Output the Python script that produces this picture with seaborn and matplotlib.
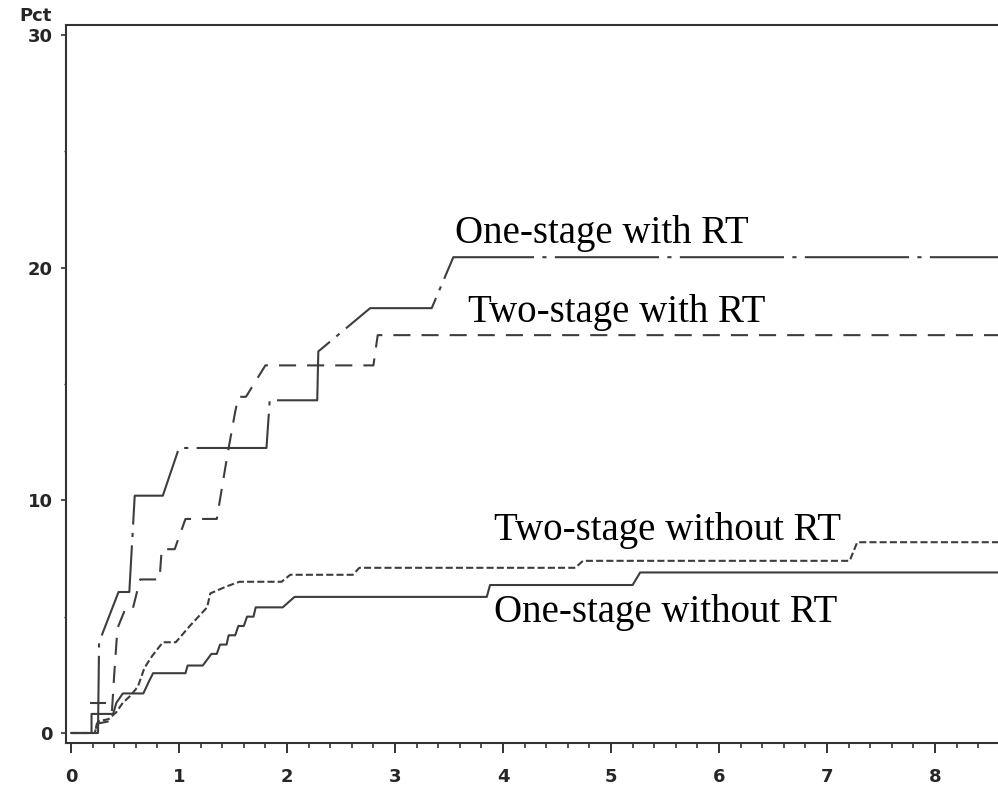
import numpy as np
import pandas as pd
import matplotlib
matplotlib.use("Agg")
import matplotlib.pyplot as plt
import seaborn as sns
from matplotlib.ticker import MultipleLocator

# cumulative incidence curves (years, percent)
one_rt_x = [0, 0.25, 0.26, 0.44, 0.54, 0.59, 0.85, 1.0, 1.81, 1.84, 2.28, 2.29, 2.77, 3.34, 3.54, 8.6]
one_rt_y = [0, 0, 3.9, 6.06, 6.06, 10.2, 10.2, 12.25, 12.25, 14.3, 14.3, 16.4, 18.26, 18.26, 20.45, 20.45]

two_rt_x = [0, 0.22, 0.24, 0.35, 0.38, 0.40, 0.43, 0.50, 0.57, 0.64, 0.82, 0.84, 0.96, 1.06, 1.35,
            1.45, 1.52, 1.55, 1.62, 1.80, 2.80, 2.84, 8.6]
two_rt_y = [0, 0, 0.4, 0.5, 1.0, 2.5, 4.5, 5.3, 5.3, 6.6, 6.6, 7.9, 7.9, 9.2, 9.2,
            12.0, 13.8, 14.45, 14.45, 15.8, 15.8, 17.1, 17.1]

two_nort_x = [0, 0.22, 0.25, 0.35, 0.42, 0.48, 0.55, 0.62, 0.68, 0.75, 0.85, 0.97, 1.10, 1.26, 1.29,
              1.44, 1.56, 1.95, 2.03, 2.61, 2.67, 4.67, 4.74, 7.21, 7.28, 8.6]
two_nort_y = [0, 0, 0.5, 0.6, 0.9, 1.3, 1.6, 2.0, 2.8, 3.3, 3.9, 3.9, 4.6, 5.4, 6.0,
              6.3, 6.5, 6.5, 6.8, 6.8, 7.1, 7.1, 7.4, 7.4, 8.2, 8.2]

one_nort_x = [0, 0.19, 0.19, 0.39, 0.42, 0.48, 0.67, 0.72, 0.76, 1.06, 1.08, 1.22, 1.30, 1.35, 1.38,
              1.44, 1.46, 1.52, 1.55, 1.60, 1.63, 1.69, 1.71, 1.96, 2.07, 3.85, 3.88, 5.20, 5.27, 8.6]
one_nort_y = [0, 0, 0.82, 0.82, 1.3, 1.7, 1.7, 2.2, 2.57, 2.57, 2.9, 2.9, 3.4, 3.4, 3.8,
              3.8, 4.2, 4.2, 4.6, 4.6, 5.0, 5.0, 5.4, 5.4, 5.85, 5.85, 6.36, 6.36, 6.9, 6.9]

# small censoring mark near the start
mark_x = [0.25]
mark_y = [1.29]

groups = ["One-stage with RT", "Two-stage with RT", "Two-stage without RT", "One-stage without RT"]
label_x = [3.56, 3.68, 3.92, 3.92]
label_y = [21.05, 17.65, 8.3, 4.75]

x_ticks = list(range(0, 9))
y_ticks = [0, 10, 20, 30]

frames = []
for name, xs, ys in zip(groups,
                        [one_rt_x, two_rt_x, two_nort_x, one_nort_x],
                        [one_rt_y, two_rt_y, two_nort_y, one_nort_y]):
    frames.append(pd.DataFrame({"years": xs, "pct": ys, "group": name}))
df = pd.concat(frames, ignore_index=True)

sns.set_style("ticks")
tick_font = ["Liberation Sans Narrow", "DejaVu Sans"]

fig = plt.figure(figsize=(9.98, 7.87), dpi=100)
ax = fig.add_axes([66 / 998, (787 - 743) / 787, 1 - 66 / 998, (743 - 25) / 787])

line_col = "#3d3d3d"
dash_map = {
    "One-stage with RT": (50, 4, 2, 4),
    "Two-stage with RT": (8.2, 5.3),
    "Two-stage without RT": (3.4, 1.5),
    "One-stage without RT": "",
}
sns.lineplot(data=df, x="years", y="pct", hue="group", style="group",
             palette={g: line_col for g in groups}, dashes=dash_map,
             sort=False, estimator=None, legend=False, lw=1.5, ax=ax)
ax.plot(mark_x, mark_y, marker="_", markersize=12, mew=1.5, color=line_col, ls="none")

for name, tx, ty in zip(groups, label_x, label_y):
    ax.text(tx, ty, name, fontsize=28, family=["Liberation Serif", "DejaVu Serif"],
            ha="left", va="baseline", color="black")

x0 = 0 - 5 / 108
x1 = (998 - 71) / 108
ax.set_xlim(x0, x1)
ax.set_ylim(-10 / 23.27, 30 + 10 / 23.27)

ax.set_xticks(x_ticks)
ax.xaxis.set_minor_locator(MultipleLocator(0.2))
ax.set_yticks(y_ticks)
ax.yaxis.set_minor_locator(MultipleLocator(5))
ax.set_xticklabels([str(v) for v in x_ticks], family=tick_font, fontweight="bold", fontsize=13)
ax.set_yticklabels([str(v) for v in y_ticks], family=tick_font, fontweight="bold", fontsize=13)
ax.tick_params(axis="x", which="major", length=7.2, width=1.4, pad=11, color="#333333")
ax.tick_params(axis="x", which="minor", length=3.6, width=1.2, color="#333333")
ax.tick_params(axis="y", which="major", length=3.6, width=1.2, pad=6, color="#333333")
ax.tick_params(axis="y", which="minor", length=1.5, width=1.0, color="#333333")

ax.set_xlabel("")
ax.set_ylabel("")
ax.spines["right"].set_visible(False)
for s in ["left", "top", "bottom"]:
    ax.spines[s].set_linewidth(1.5)
    ax.spines[s].set_color("#333333")

fig.text(52 / 998, 1 - 16 / 787, "Pct", family=tick_font, fontweight="bold", fontsize=13,
         ha="right", va="center")

fig.savefig("out.png", dpi=100)
